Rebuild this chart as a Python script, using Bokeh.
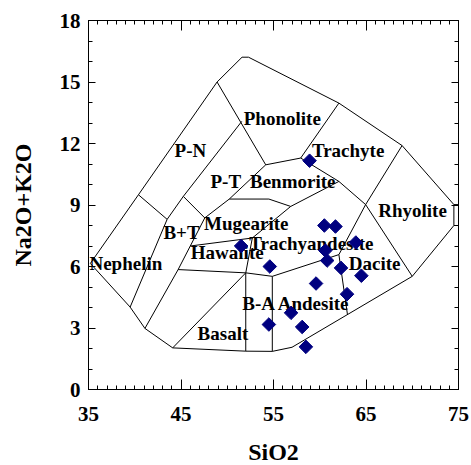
import math
from bokeh.plotting import figure
from bokeh.models import Range1d, FixedTicker, LinearAxis, ColumnDataSource
from bokeh.core.properties import value
from bokeh.embed import file_html
from bokeh.resources import INLINE

# ---- axis ticks ----
x_major = [35, 45, 55, 65, 75]
x_minor = list(range(35, 76))
y_major = [0, 3, 6, 9, 12, 15, 18]
y_minor = list(range(0, 19))

# ---- samples (SiO2, Na2O+K2O) ----
sio2 = [58.9, 60.5, 61.7, 63.9, 51.5, 60.6, 60.8, 54.6, 62.3, 64.5, 59.6, 62.95, 56.9, 54.5, 58.1, 58.5]
alkali = [11.16, 8.0, 7.95, 7.17, 7.0, 6.78, 6.29, 6.0, 5.93, 5.55, 5.17, 4.65, 3.74, 3.17, 3.05, 2.08]

# ---- field boundary polylines (SiO2 list, alkali list) ----
outer_top_x = [35.2, 40.4, 48.9, 51.6, 52.3, 62.07, 68.9, 74.5, 76.0]
outer_top_y = [6.15, 9.5, 15.0, 16.21, 16.21, 13.97, 11.9, 9.02, 9.02]
outer_right_x = [74.5, 74.5, 76.0]
outer_right_y = [9.02, 8.0, 8.0]
outer_bottom_x = [74.5, 70.0, 57.0, 54.87, 52.0, 44.1, 41.1, 39.5, 35.2]
outer_bottom_y = [8.0, 5.52, 2.06, 1.86, 1.87, 2.03, 2.98, 4.02, 6.15]

inner_lines = [
    ([40.4, 43.5], [9.5, 8.3]),
    ([51.57, 45.25, 43.5, 39.5], [13.08, 9.42, 8.3, 4.02]),
    ([48.9, 54.16], [15.0, 10.96]),
    ([54.16, 57.94, 62.07], [10.96, 11.29, 13.97]),
    ([57.94, 62.07, 64.96], [11.29, 10.15, 9.02]),
    ([68.9, 64.96, 62.07, 63.0], [11.9, 9.02, 6.58, 3.64]),
    ([64.96, 70.0], [9.02, 5.52]),
    ([54.16, 50.22, 47.57], [10.96, 9.29, 8.37]),
    ([50.22, 54.5, 56.86, 62.07], [9.29, 9.29, 8.93, 10.15]),
    ([45.25, 47.57], [9.42, 8.37]),
    ([47.57, 44.69, 41.1], [8.37, 5.85, 2.98]),
    ([46.0, 52.71], [7.0, 7.39]),
    ([56.86, 52.71, 52.0], [8.93, 7.39, 5.69]),
    ([44.69, 52.0], [5.85, 5.69]),
    ([44.1, 52.0], [2.03, 5.69]),
    ([52.0, 52.0], [5.69, 1.87]),
    ([52.0, 54.87, 62.07], [5.69, 5.52, 6.58]),
    ([54.87, 54.87], [5.52, 1.86]),
]

# ---- field names ----
field_names = ["Phonolite", "Trachyte", "Benmorite", "P-T", "Rhyolite", "P-N", "B+T",
               "Mugearite", "Hawaiite", "Trachyandesite", "Dacite", "B-A Andesite",
               "Basalt", "Nephelin"]
field_x = [55.95, 63.07, 57.08, 49.84, 70.03, 46.02, 45.05, 52.05, 50.0, 59.1, 65.93, 57.48, 49.53, 39.04]
field_y = [13.21, 11.66, 10.15, 10.15, 8.71, 11.66, 7.64, 8.1, 6.70, 7.1, 6.13, 4.18, 2.72, 6.13]

FONT = "Liberation Serif"

p = figure(x_range=Range1d(35, 75), y_range=Range1d(0, 18),
           frame_width=370, frame_height=369,
           min_border_left=88, min_border_top=20, min_border_right=12, min_border_bottom=70,
           output_backend="svg", toolbar_location=None)
p.grid.visible = False
p.outline_line_color = "black"
p.outline_line_width = 1
p.background_fill_color = "white"
p.border_fill_color = "white"

xt = FixedTicker(ticks=x_major, minor_ticks=x_minor)
yt = FixedTicker(ticks=y_major, minor_ticks=y_minor)

def style_axis(ax, ticker, major_len, labels=True):
    ax.ticker = ticker
    ax.axis_line_color = "black"
    ax.major_tick_line_color = "black"
    ax.minor_tick_line_color = "black"
    ax.major_tick_in = major_len
    ax.major_tick_out = 0
    ax.minor_tick_in = 4
    ax.minor_tick_out = 0
    if labels:
        ax.major_label_text_font = FONT
        ax.major_label_text_font_style = "bold"
        ax.major_label_text_font_size = "21px"
        ax.major_label_text_color = "black"
        ax.axis_label_text_font = FONT
        ax.axis_label_text_font_style = "bold"
        ax.axis_label_text_font_size = "24px"
        ax.axis_label_text_color = "black"
    else:
        ax.major_label_text_font_size = "1px"
        ax.major_label_text_color = None
        ax.major_label_standoff = 0

xa = p.xaxis[0]
style_axis(xa, xt, 10)
xa.axis_label = "SiO2"
xa.major_label_standoff = 17
xa.axis_label_standoff = 15

ya = p.yaxis[0]
style_axis(ya, yt, 7)
ya.axis_label = "Na2O+K2O"
ya.major_label_standoff = 8
ya.axis_label_standoff = 21

top_ax = LinearAxis()
style_axis(top_ax, xt, 10, labels=False)
p.add_layout(top_ax, "above")
right_ax = LinearAxis()
style_axis(right_ax, yt, 7, labels=False)
p.add_layout(right_ax, "right")

xs = [outer_top_x, outer_right_x, outer_bottom_x] + [l[0] for l in inner_lines]
ys = [outer_top_y, outer_right_y, outer_bottom_y] + [l[1] for l in inner_lines]
p.multi_line(xs=xs, ys=ys, line_color="black", line_width=1)

lab = ColumnDataSource(dict(x=field_x, y=field_y, t=field_names))
p.text(x="x", y="y", text="t", source=lab, text_font=value(FONT), text_font_style="bold",
       text_font_size="19px", text_align="center", text_baseline="middle", text_color="black")

p.scatter(x=sio2, y=alkali, marker="square", angle=math.pi / 4, size=9.6,
          fill_color="#000080", line_color="#000080")

open("out.html", "w").write(file_html(p, INLINE))
